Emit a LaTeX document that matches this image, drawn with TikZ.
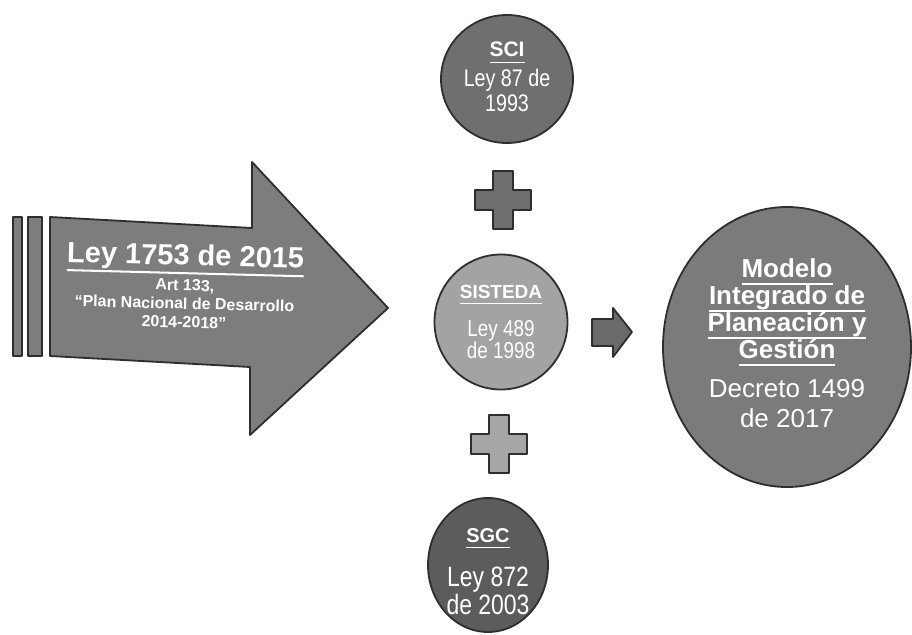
\documentclass[tikz,border=0pt]{standalone}
\usepackage{fontspec}
\setmainfont{Liberation Sans}
\newfontfamily\narrowSans[FakeStretch=0.82]{Liberation Sans}
\usetikzlibrary{shapes.geometric}
\lineskiplimit=-100pt
\definecolor{edgeGray}{HTML}{2E2E2E}
\definecolor{arrowGray}{HTML}{7D7D7D}
\definecolor{sciGray}{HTML}{6F6F6F}
\definecolor{sistedaGray}{HTML}{A3A3A3}
\definecolor{sgcGray}{HTML}{5C5C5C}
\definecolor{mipgGray}{HTML}{7B7B7B}
\definecolor{plusDark}{HTML}{6E6E6E}
\definecolor{plusLight}{HTML}{A6A6A6}
\definecolor{smallGray}{HTML}{6A6A6A}
\newcommand{\lawUnderline}[1]{\leavevmode\setbox0\hbox{#1}%
  \rlap{\vrule width\wd0 height -.24em depth .31em}\box0}

\begin{document}
\begin{tikzpicture}
[x=1pt,y=-1pt,
  circleDecorate/.style={shape=ellipse,draw=edgeGray,line width=1.8pt,inner sep=0pt},
  shapeDecorate/.style={draw=edgeGray,line width=1.8pt,line join=round},
  textDecorate/.style={text=white,align=center,inner sep=0pt,anchor=north}]
\useasboundingbox (0,0) rectangle (912,634);
%% big arrow with its bars
\foreach \xa/\xb in {13/22, 28/42} {
  \draw[shapeDecorate,fill=arrowGray] (\xa,217) rectangle (\xb,356);
}
\draw[shapeDecorate,fill=arrowGray] (50,217) -- (252,228) -- (252,162) -- (388,308)
  -- (250,435) -- (250,367) -- (50,356) -- cycle;
%% circles
\foreach \nodename/\x/\y/\w/\h/\col in {sci/507/79/132/128/sciGray,
    sisteda/501/322/133/135/sistedaGray, sgc/488/565/120/134/sgcGray,
    mipg/787/347/248/280/mipgGray} {
  \node (\nodename) at (\x,\y) [circleDecorate,fill=\col,minimum width=\w,minimum height=\h] {};
}
%% plus signs
\foreach \px/\py/\col in {503/200/plusDark, 499/444/plusLight} {
  \draw[shapeDecorate,fill=\col,shift={(\px,\py)}] (-10,-29) -- (10,-29) -- (10,-10)
    -- (28,-10) -- (28,10) -- (10,10) -- (10,29) -- (-10,29) -- (-10,10) -- (-28,10)
    -- (-28,-10) -- (-10,-10) -- cycle;
}
%% small arrow
\draw[shapeDecorate,fill=smallGray] (592,319) -- (613,319) -- (613,308) -- (632,332)
  -- (613,357) -- (613,346) -- (592,346) -- cycle;
%% texts
\node (leyText) at (186,244) [textDecorate,rotate=-1.5,font=\bfseries\fontsize{16}{18.5}\selectfont]
  {{\fontsize{29}{30}\selectfont\lawUnderline{Ley 1753 de 2015}}\\[7pt]
   Art 133,\\ ``Plan Nacional de Desarrollo\\ 2014-2018''};
\node (sciText) at (507,42) [textDecorate,font=\narrowSans\fontsize{24}{25}\selectfont]
  {{\normalfont\bfseries\fontsize{21}{25}\selectfont\lawUnderline{SCI}}\\[5pt]
   Ley 87 de\\ 1993};
\node (sistedaText) at (501,285) [textDecorate,font=\narrowSans\fontsize{23}{22}\selectfont]
  {{\normalfont\bfseries\fontsize{19}{22}\selectfont\lawUnderline{SISTEDA}}\\[16pt]
   Ley 489\\ de 1998};
\node (sgcText) at (488,528) [textDecorate,font=\narrowSans\fontsize{28}{28}\selectfont]
  {{\normalfont\bfseries\fontsize{20}{28}\selectfont\lawUnderline{SGC}}\\[16pt]
   Ley 872\\ de 2003};
\node (mipgText) at (787,258) [textDecorate,font=\bfseries\fontsize{26}{27}\selectfont]
  {\lawUnderline{Modelo}\\ \lawUnderline{Integrado de}\\
   \lawUnderline{Planeación y}\\ \lawUnderline{Gestión}\\[12pt]
   {\mdseries Decreto 1499}\\[3pt] {\mdseries de 2017}};
\end{tikzpicture}
\end{document}
